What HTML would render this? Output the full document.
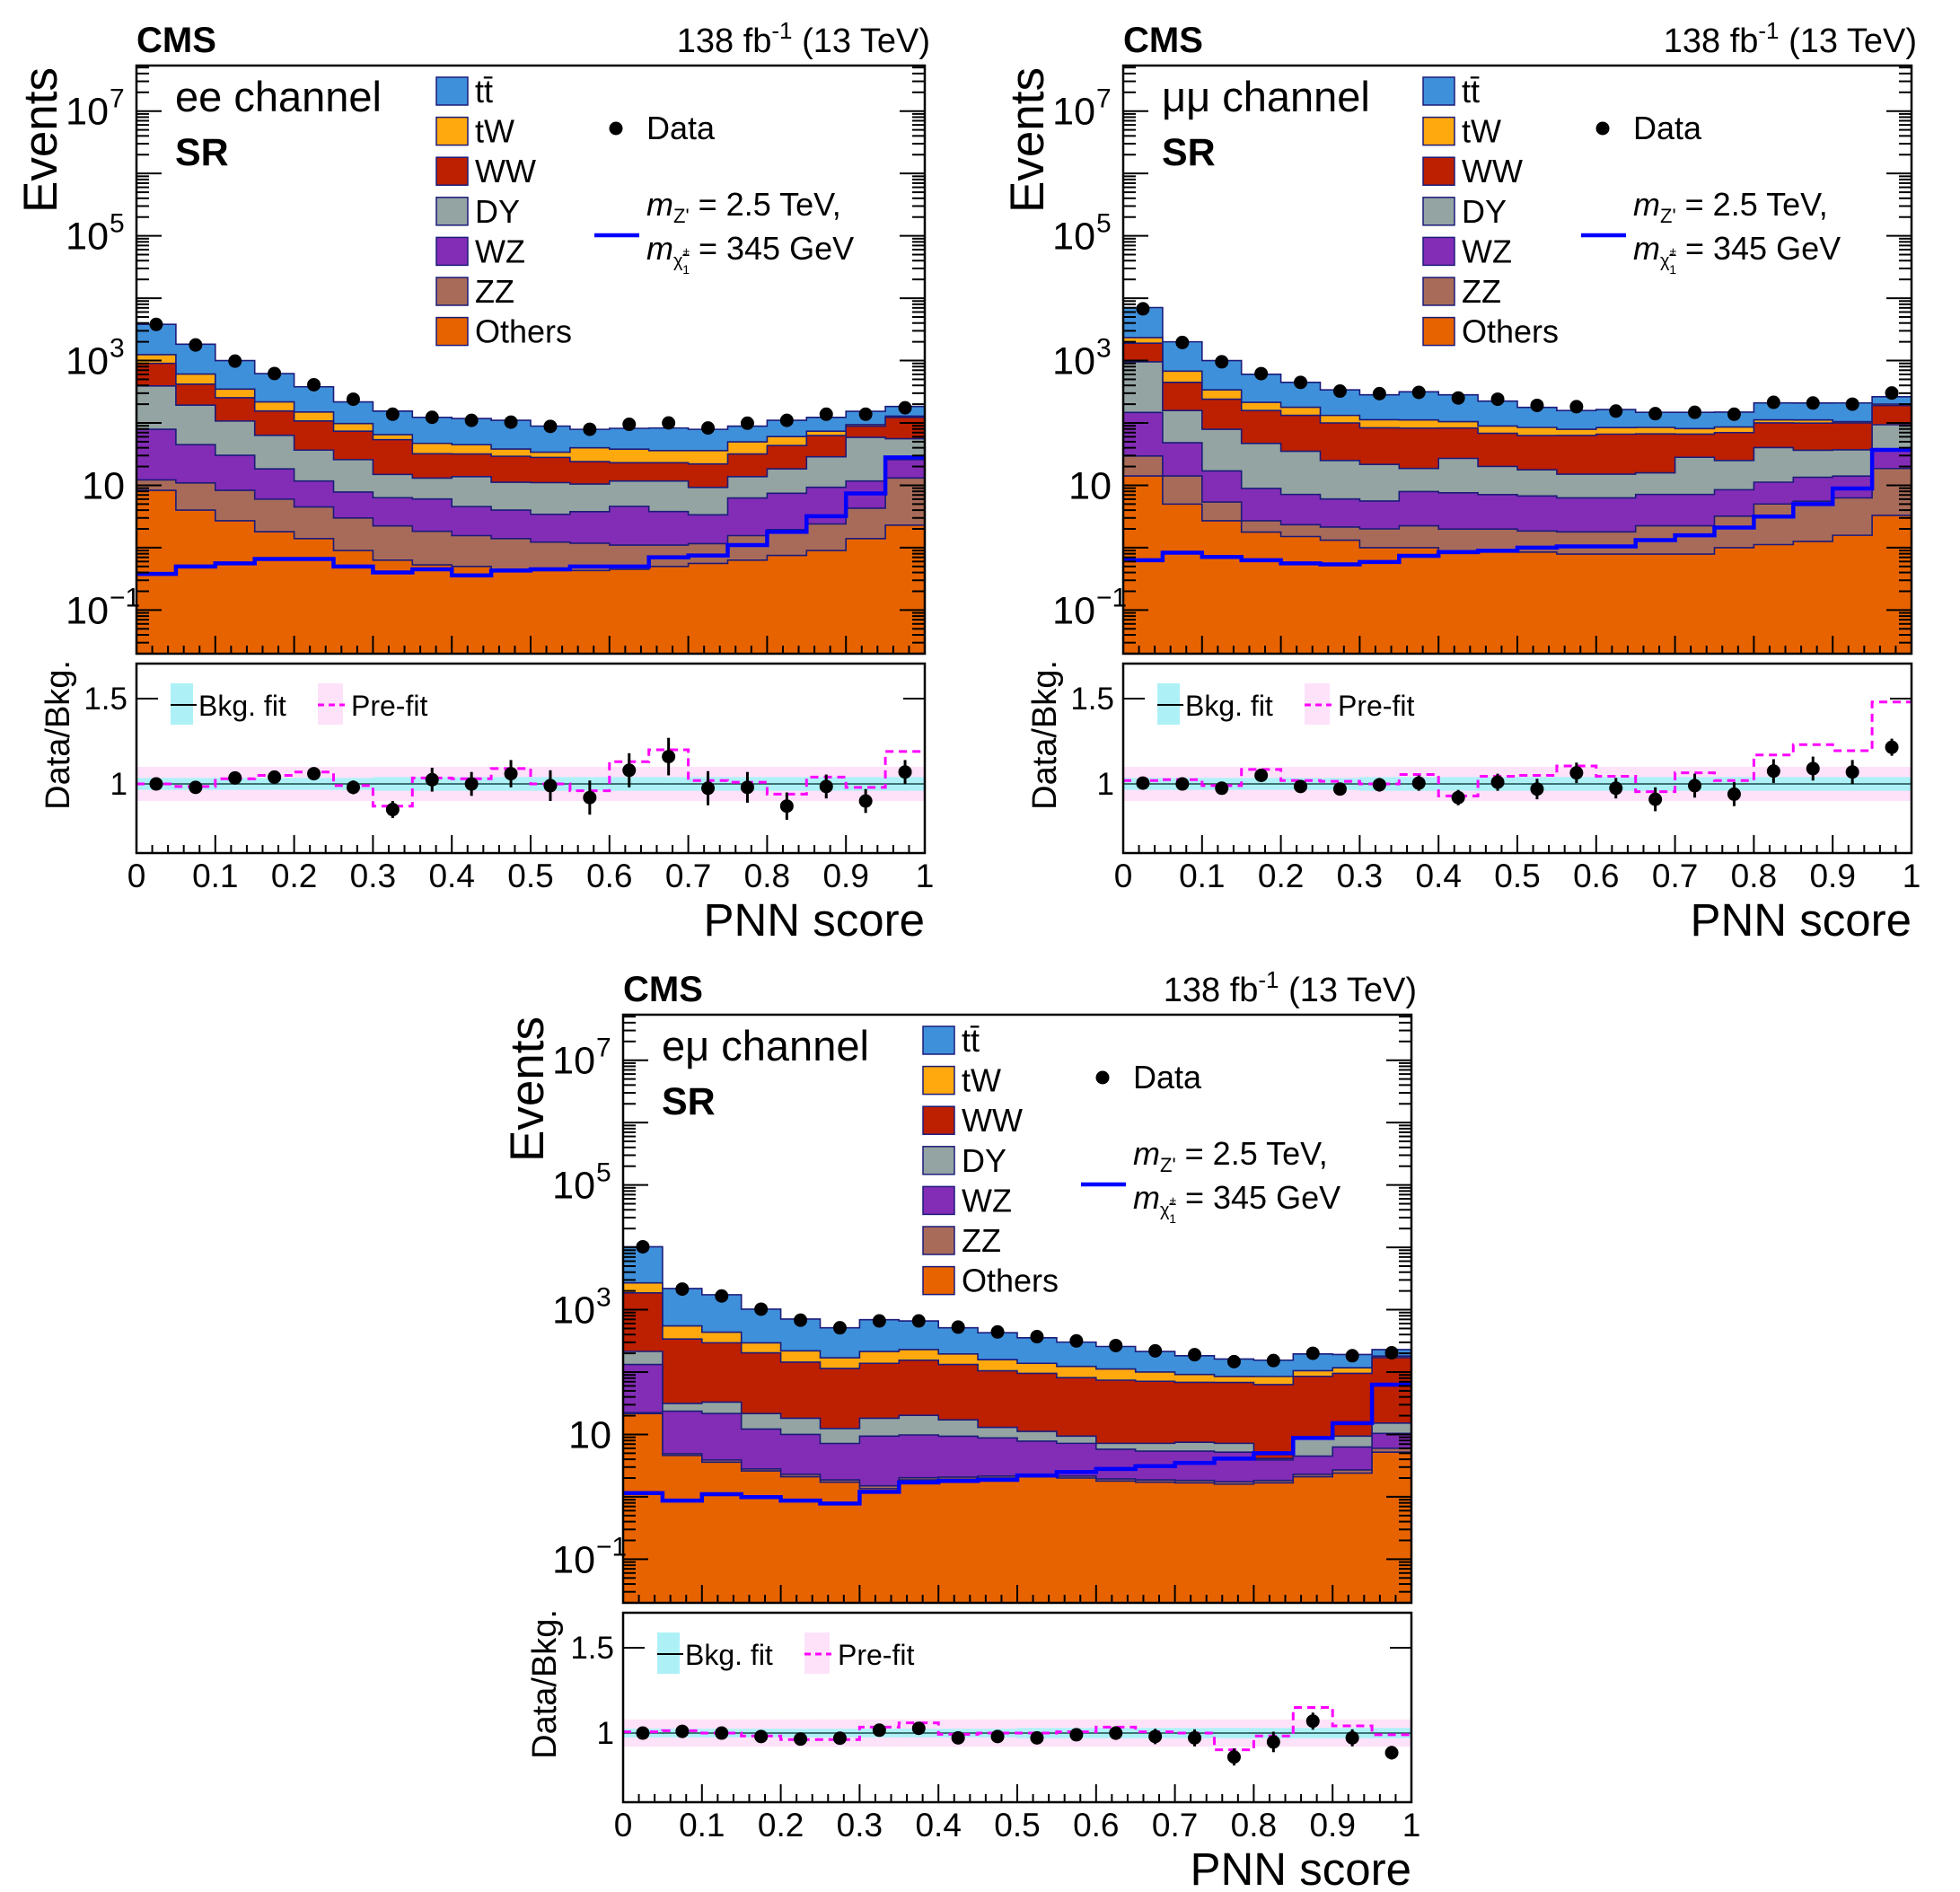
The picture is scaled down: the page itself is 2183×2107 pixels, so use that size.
<!DOCTYPE html>
<html><head><meta charset="utf-8">
<style>
html,body{margin:0;padding:0;background:#fff;}
svg{display:block;font-family:"Liberation Sans",Arial,sans-serif;}
</style></head>
<body>
<svg id="fig" xmlns="http://www.w3.org/2000/svg" width="2183" height="2107" viewBox="0 0 2183 2107"></svg>
<script>
// ---------- data ----------
const binEdges = [0,0.05,0.1,0.15,0.2,0.25,0.3,0.35,0.4,0.45,0.5,0.55,0.6,0.65,0.7,0.75,0.8,0.85,0.9,0.95,1.0];
const processNames = ["tt\u0304","tW","WW","DY","WZ","ZZ","Others"];
const xTickLabels = ["0","0.1","0.2","0.3","0.4","0.5","0.6","0.7","0.8","0.9","1"];

// ee channel
const eeTT = [2570,1220,650,400,230,120,90,76,73,72,55,39,44,47,43,39,50,49,60,55];
const eeTW = [340,190,95,62,42,24,11,15,13,9,6,16,15,13,14,18,17,11,5,6];
const eeWW = [511,225,146,92,71,48,39,19,18,18,17,13.5,11.3,11.3,12.7,18,25,34,30,67];
const eeDY = [313,148,77,45,25,18,8.6,7.0,9.2,7.2,7.6,6.7,7.1,7.9,5.9,7.5,10.9,19.4,47,30];
const eeWZ = [67,34,22,12.3,7.2,4.8,4.1,4.2,3.0,2.6,2.2,2.6,3.5,2.7,2.2,4.7,5.5,6.9,7.4,12.7];
const eeZZ = [3.9,6.9,5.6,4.2,3.1,2.1,1.6,1.3,1.06,0.95,0.8,0.75,0.65,0.6,0.6,0.93,1.2,1.5,2.9,10.8];
const eeOthers = [8.3,4.0,2.7,1.8,1.4,0.9,0.63,0.53,0.5,0.45,0.43,0.43,0.45,0.5,0.56,0.63,0.75,0.9,1.4,2.3];
const eeData = [3800,1780,980,620,410,240,138,123,110,103,88,79,95,100,83,99,110,138,138,175];
const eeSignal = [0.38,0.5,0.56,0.66,0.66,0.5,0.4,0.45,0.36,0.43,0.45,0.5,0.5,0.7,0.75,1.1,1.8,3.2,7.4,28];
const eeRatio = [1.0,0.98,1.035,1.04,1.06,0.98,0.85,1.025,1.0,1.06,0.99,0.92,1.08,1.16,0.975,0.98,0.87,0.985,0.9,1.07];
const eeRatioErr = [0.01,0.015,0.02,0.025,0.03,0.04,0.05,0.07,0.07,0.08,0.09,0.1,0.1,0.11,0.1,0.09,0.08,0.07,0.07,0.07];
const eePrefit = [1.0,0.985,1.03,1.05,1.07,0.99,0.87,1.035,1.03,1.09,1.0,0.96,1.13,1.2,1.02,1.01,0.94,1.04,0.98,1.19];
const eeFitUnc = [0.035,0.035,0.035,0.035,0.035,0.035,0.04,0.04,0.04,0.04,0.04,0.04,0.04,0.04,0.04,0.04,0.04,0.04,0.04,0.04];
const eePreUnc = [0.1,0.1,0.1,0.1,0.1,0.1,0.1,0.1,0.1,0.1,0.1,0.1,0.1,0.1,0.1,0.1,0.1,0.1,0.1,0.1];

// mumu channel
const mmTT = [4740,1324,661,389,269,207,170,204,177,135,93,79,80,63,67,63,97,97,104,63];
const mmTW = [440,229,99,56,46,32,29,29,22,21,22,16,18,18,15,16,12,12,5,10];
const mmWW = [945,289,161,111,97,75,62,64,56,48,45,48,51,51,38,45,60,63,63,97];
const mmDY = [807,110,62,38,28,19,16,10.7,19.4,13,11,8.8,8.8,8.7,21,16.5,29,23,23,58];
const mmWZ = [118,34,11.6,6.2,4.8,3.9,3.6,5.7,5.6,5.1,4.9,4.5,4.5,4.9,4.9,5.3,6.2,7.9,7.8,17];
const mmZZ = [15.4,9.1,2.7,0.92,0.83,0.82,1.0,1.24,1.1,1.1,1.0,1.0,1.0,1.45,1.45,2.2,3.9,4.3,4.7,15.3];
const mmOthers = [14.1,5.0,2.7,1.78,1.51,1.32,1.0,1.0,0.89,0.89,0.85,0.79,0.79,0.79,0.79,1.0,1.12,1.26,1.58,3.3];
const mmData = [6760,1950,955,617,447,324,295,309,251,240,191,182,155,141,148,138,214,209,200,302];
const mmSignal = [0.63,0.83,0.71,0.63,0.56,0.54,0.59,0.74,0.85,0.89,1.0,1.05,1.05,1.32,1.58,2.1,3.16,5.0,8.9,37];
const mmRatio = [1.005,1.0,0.975,1.05,0.985,0.97,0.995,1.005,0.92,1.01,0.97,1.065,0.975,0.91,0.99,0.94,1.075,1.09,1.07,1.215];
const mmRatioErr = [0.01,0.015,0.02,0.03,0.03,0.035,0.04,0.045,0.045,0.05,0.06,0.06,0.06,0.07,0.07,0.07,0.07,0.07,0.07,0.05];
const mmPrefit = [1.02,1.025,0.99,1.085,1.02,1.015,1.0,1.055,0.93,1.045,1.05,1.105,1.045,0.955,1.065,1.02,1.17,1.23,1.195,1.48];
const mmFitUnc = [0.035,0.035,0.035,0.035,0.035,0.035,0.04,0.04,0.04,0.04,0.04,0.04,0.04,0.04,0.04,0.04,0.04,0.04,0.04,0.04];
const mmPreUnc = [0.1,0.1,0.1,0.1,0.1,0.1,0.1,0.1,0.1,0.1,0.1,0.1,0.1,0.1,0.1,0.1,0.1,0.1,0.1,0.1];

// emu channel
const emTT = [7510,1640,1300,725,489,343,478,432,318,269,217,179,145,114,91,77,70,90,74,49];
const emTW = [830,211,142,91,75,55,76,74,63,53,43,42,38,29,23,17,22,20,22,10];
const emWW = [1646,308,262,182,126,102,120,135,115,92,84,72,67,64,61,61,59,77,86,155];
const emDY = [82,7.8,11.4,9.4,8.2,5.3,8.8,10.4,7.8,4.2,3.4,2.2,1.4,1.8,2.1,2.0,0.2,3.9,3.1,4.8];
const emWZ = [110,18.7,17.7,9.4,7.7,5.3,7.9,7.8,7.3,6.65,5.55,5.05,3.86,3.53,3.57,3.45,2.07,2.2,3.6,4.4];
const emZZ = [0.8,0.3,0.3,0.2,0.2,0.15,0.15,0.15,0.15,0.15,0.15,0.15,0.15,0.15,0.15,0.15,0.15,0.2,0.3,0.8];
const emOthers = [21.6,4.6,3.6,2.6,2.1,1.72,1.35,1.87,1.92,2.0,2.1,2.0,1.79,1.72,1.68,1.6,1.68,2.1,2.4,5.2];
const emData = [10200,2140,1660,1020,680,513,661,661,526,440,370,316,266,219,190,147,153,200,183,204];
const emSignal = [1.15,0.87,1.1,0.99,0.87,0.78,1.2,1.7,1.8,1.87,2.2,2.5,2.8,3.1,3.5,4.1,5.0,8.8,15.2,63];
const emRatio = [1.0,1.01,1.0,0.98,0.965,0.97,1.017,1.028,0.972,0.98,0.972,0.99,1.0,0.98,0.972,0.86,0.948,1.07,0.972,0.885];
const emRatioErr = [0.01,0.015,0.015,0.02,0.025,0.03,0.03,0.03,0.03,0.03,0.035,0.035,0.04,0.045,0.05,0.05,0.06,0.05,0.05,0.04];
const emPrefit = [1.007,1.014,1.0,0.983,0.962,0.962,1.035,1.06,0.993,1.0,1.0,1.007,1.035,1.007,1.0,0.902,0.983,1.15,1.042,0.99];
const emFitUnc = [0.025,0.025,0.025,0.025,0.025,0.025,0.025,0.025,0.025,0.025,0.03,0.03,0.03,0.03,0.03,0.03,0.03,0.03,0.03,0.03];
const emPreUnc = [0.08,0.08,0.08,0.08,0.08,0.08,0.08,0.08,0.08,0.08,0.08,0.08,0.08,0.08,0.08,0.08,0.08,0.08,0.08,0.08];

// ---------- drawing ----------
const NS = "http://www.w3.org/2000/svg";
const svg = document.getElementById("fig");
const COLORS = ["#3f90da","#ffa90e","#bd1f01","#94a4a2","#832db6","#a96b59","#e76300"];
const EDGE = "#1b1b7a";

function mk(tag, parent, attrs){
  const e = document.createElementNS(NS, tag);
  for (const k in attrs) e.setAttribute(k, attrs[k]);
  parent.appendChild(e);
  return e;
}

const FX0 = 152, FX1 = 1030, MY0 = 73, MY1 = 728, RY0 = 739, RY1 = 950;
const LOGMIN = -1.70, LOGMAX = 7.73, RMIN = 0.595, RMAX = 1.705;

function drawPanel(ox, oy, name, label, procs, data, signal, ratio, rerr, prefit, fitUnc, preUnc){
  const g = mk("g", svg, {transform:`translate(${ox},${oy})`});
  
  
  const xs = v => FX0 + (v - binEdges[0])/(binEdges[binEdges.length-1]-binEdges[0])*(FX1-FX0);
  const ys = v => MY0 + (LOGMAX - Math.log10(Math.max(v,1e-4)))/(LOGMAX-LOGMIN)*(MY1-MY0);
  const yr = v => RY0 + (RMAX - v)/(RMAX-RMIN)*(RY1-RY0);
  const nb = binEdges.length-1;

  const clipId = "clip-"+name;
  const cp = mk("clipPath", g, {id:clipId});
  mk("rect", cp, {x:FX0, y:MY0, width:FX1-FX0, height:MY1-MY0});
  const clipR = "clipr-"+name;
  const cpr = mk("clipPath", g, {id:clipR});
  mk("rect", cpr, {x:FX0, y:RY0, width:FX1-FX0, height:RY1-RY0});

  const cum = [];
  let run = new Array(nb).fill(0);
  for (let p = procs.length-1; p >= 0; p--){
    run = run.map((v,i)=>v+procs[p][i]);
    cum[p] = run.slice();
  }
  const stackG = mk("g", g, {"clip-path":`url(#${clipId})`});
  
  
  for (let p = 0; p < procs.length; p++){
    let d = `M${xs(binEdges[0])},${MY1+5}`;
    for (let i=0;i<nb;i++){
      d += ` L${xs(binEdges[i])},${ys(cum[p][i])} L${xs(binEdges[i+1])},${ys(cum[p][i])}`;
    }
    d += ` L${xs(binEdges[nb])},${MY1+5} Z`;
    const path = mk("path", stackG, {d:d, fill:COLORS[p], stroke:EDGE, "stroke-width":1.6});
    
    
  }
  let sd = "";
  for (let i=0;i<nb;i++){
    sd += (i===0?"M":" L")+`${xs(binEdges[i])},${ys(signal[i])} L${xs(binEdges[i+1])},${ys(signal[i])}`;
  }
  const sp = mk("path", g, {d:sd, fill:"none", stroke:"#0000ff", "stroke-width":4.5, "clip-path":`url(#${clipId})`});
  
  
  for (let i=0;i<nb;i++){
    const cx = xs((binEdges[i]+binEdges[i+1])/2);
    const e = Math.sqrt(data[i]);
    mk("line", g, {x1:cx, x2:cx, y1:ys(data[i]+e), y2:ys(Math.max(data[i]-e,1e-3)), stroke:"#000", "stroke-width":3});
    const c = mk("circle", g, {cx:cx, cy:ys(data[i]), r:7.5, fill:"#000"});
    
    
  }
  const mf = mk("rect", g, {x:FX0, y:MY0, width:FX1-FX0, height:MY1-MY0, fill:"none", stroke:"#000", "stroke-width":2.5});
  
  
  const tg = mk("g", g, {stroke:"#000", "stroke-width":2});
  for (let d=-2; d<=7; d++){
    for (let m=1; m<=9; m++){
      const v = m*Math.pow(10,d);
      const lv = Math.log10(v);
      if (lv < LOGMIN || lv > LOGMAX) continue;
      const y = ys(v);
      const L = (m===1)?28:14;
      mk("line", tg, {x1:FX0, x2:FX0+L, y1:y, y2:y});
      mk("line", tg, {x1:FX1, x2:FX1-L, y1:y, y2:y});
    }
  }
  for (let k=0; k<=50; k++){
    const v = k*0.02;
    const x = xs(v);
    const L = (k%5===0)?20:9;
    mk("line", tg, {x1:x, x2:x, y1:MY1, y2:MY1-L});
    mk("line", tg, {x1:x, x2:x, y1:RY1, y2:RY1-L});
  }
  const yLabs = [[-1,"10","−1"],[1,"10",""],[3,"10","3"],[5,"10","5"],[7,"10","7"]];
  yLabs.forEach(([p,base,sup])=>{
    const y = ys(Math.pow(10,p));
    const t = mk("text", g, {x: sup? 121: 139, y:y+15, "font-size":43, "text-anchor":"end"});
    t.textContent = base;
    
    
    if (sup){
      const s = mk("text", g, {x:122, y:y-4, "font-size":30});
      s.textContent = sup;
    }
  });
  const ev = mk("text", g, {x:0, y:0, "font-size":53, "text-anchor":"end", transform:`translate(63,${MY0+2}) rotate(-90)`});
  ev.textContent = "Events";
  
  
  const cms = mk("text", g, {x:FX0, y:58, "font-size":40, "font-weight":"bold"});
  cms.textContent = "CMS";
  
  
  const lumi = mk("text", g, {x:FX1+6, y:58, "font-size":38, "text-anchor":"end"});
  lumi.innerHTML = '138 fb<tspan font-size="26" dy="-15">-1</tspan><tspan dy="15"> (13 TeV)</tspan>';
  
  
  const ch = mk("text", g, {x:195, y:124, "font-size":47});
  ch.textContent = label;
  
  
  const sr = mk("text", g, {x:195, y:184, "font-size":43, "font-weight":"bold"});
  sr.textContent = "SR";
  
  
  for (let p=0;p<processNames.length;p++){
    const ty = 86 + p*44.6;
    const r = mk("rect", g, {x:486, y:ty, width:35, height:31, fill:COLORS[p], stroke:EDGE, "stroke-width":1.5});
    
    
    const t = mk("text", g, {x:529, y:ty+28, "font-size":36});
    t.textContent = processNames[p];
    
    
  }
  const dd = mk("circle", g, {cx:686, cy:143, r:7.5, fill:"#000"});
  
  
  const dt = mk("text", g, {x:720, y:155, "font-size":36});
  dt.textContent = "Data";
  
  
  mk("line", g, {x1:662, x2:712, y1:262, y2:262, stroke:"#0000ff", "stroke-width":4.5});
  const s1 = mk("text", g, {x:720, y:240, "font-size":36});
  s1.innerHTML = '<tspan font-style="italic">m</tspan><tspan font-size="22" dy="8">Z\'</tspan><tspan dy="-8"> = 2.5 TeV,</tspan>';
  
  
  const s2 = mk("text", g, {x:720, y:289, "font-size":36});
  s2.innerHTML = '<tspan font-style="italic">m</tspan><tspan font-size="20" dy="8">χ̃</tspan><tspan font-size="14" dy="-12">±</tspan><tspan font-size="14" dx="-8" dy="20">1</tspan><tspan dy="-16"> = 345 GeV</tspan>';
  
  

  const rg = mk("g", g, {"clip-path":`url(#${clipR})`});
  
  
  for (let i=0;i<nb;i++){
    const x0 = xs(binEdges[i]), x1 = xs(binEdges[i+1]);
    mk("rect", rg, {x:x0, y:yr(1+preUnc[i]), width:x1-x0+0.5, height:yr(1-preUnc[i])-yr(1+preUnc[i]), fill:"#fde2f9"});
  }
  for (let i=0;i<nb;i++){
    const x0 = xs(binEdges[i]), x1 = xs(binEdges[i+1]);
    mk("rect", rg, {x:x0, y:yr(1+fitUnc[i]), width:x1-x0+0.5, height:yr(1-fitUnc[i])-yr(1+fitUnc[i]), fill:"#adf1f7"});
  }
  mk("line", rg, {x1:FX0, x2:FX1, y1:yr(1), y2:yr(1), stroke:"#1a4a4a", "stroke-width":1.5});
  let pd = "";
  for (let i=0;i<nb;i++){
    pd += (i===0?"M":" L")+`${xs(binEdges[i])},${yr(prefit[i])} L${xs(binEdges[i+1])},${yr(prefit[i])}`;
  }
  const pp = mk("path", rg, {d:pd, fill:"none", stroke:"#ff00ff", "stroke-width":3, "stroke-dasharray":"9,6"});
  
  
  for (let i=0;i<nb;i++){
    const cx = xs((binEdges[i]+binEdges[i+1])/2);
    mk("line", rg, {x1:cx, x2:cx, y1:yr(ratio[i]+rerr[i]), y2:yr(ratio[i]-rerr[i]), stroke:"#000", "stroke-width":3});
    const c = mk("circle", rg, {cx:cx, cy:yr(ratio[i]), r:7.5, fill:"#000"});
    
    
  }
  const rf = mk("rect", g, {x:FX0, y:RY0, width:FX1-FX0, height:RY1-RY0, fill:"none", stroke:"#000", "stroke-width":2.5});
  
  
  [1,1.5].forEach(v=>{
    const y = yr(v);
    mk("line", tg, {x1:FX0, x2:FX0+24, y1:y, y2:y});
    mk("line", tg, {x1:FX1, x2:FX1-24, y1:y, y2:y});
    const t = mk("text", g, {x:142, y:y+12, "font-size":35, "text-anchor":"end"});
    t.textContent = v===1? "1" : "1.5";
    
    
  });
  const rt = mk("text", g, {x:0, y:0, "font-size":38, "text-anchor":"end", transform:`translate(77,${RY0-4}) rotate(-90)`});
  rt.textContent = "Data/Bkg.";
  
  
  mk("rect", g, {x:190, y:761, width:25, height:46, fill:"#adf1f7"});
  mk("line", g, {x1:190, x2:219, y1:785, y2:785, stroke:"#000", "stroke-width":2});
  const bl = mk("text", g, {x:221, y:797, "font-size":32});
  bl.textContent = "Bkg. fit";
  
  
  mk("rect", g, {x:354, y:761, width:28, height:46, fill:"#fde2f9"});
  mk("line", g, {x1:354, x2:384, y1:785, y2:785, stroke:"#ff00ff", "stroke-width":3, "stroke-dasharray":"7,5"});
  const pl = mk("text", g, {x:391, y:797, "font-size":32});
  pl.textContent = "Pre-fit";
  
  
  xTickLabels.forEach((lab,k)=>{
    const t = mk("text", g, {x:xs(k*0.1), y:988, "font-size":37, "text-anchor":"middle"});
    t.textContent = lab;
    
    
  });
  const xt = mk("text", g, {x:FX1, y:1042, "font-size":51, "text-anchor":"end"});
  xt.textContent = "PNN score";
  
  
}

drawPanel(0, 0, "ee", "ee channel",
  [eeTT,eeTW,eeWW,eeDY,eeWZ,eeZZ,eeOthers], eeData, eeSignal, eeRatio, eeRatioErr, eePrefit, eeFitUnc, eePreUnc);
drawPanel(1099, 0, "mumu", "\u03bc\u03bc channel",
  [mmTT,mmTW,mmWW,mmDY,mmWZ,mmZZ,mmOthers], mmData, mmSignal, mmRatio, mmRatioErr, mmPrefit, mmFitUnc, mmPreUnc);
drawPanel(542, 1057, "emu", "e\u03bc channel",
  [emTT,emTW,emWW,emDY,emWZ,emZZ,emOthers], emData, emSignal, emRatio, emRatioErr, emPrefit, emFitUnc, emPreUnc);
</script>
</body></html>
